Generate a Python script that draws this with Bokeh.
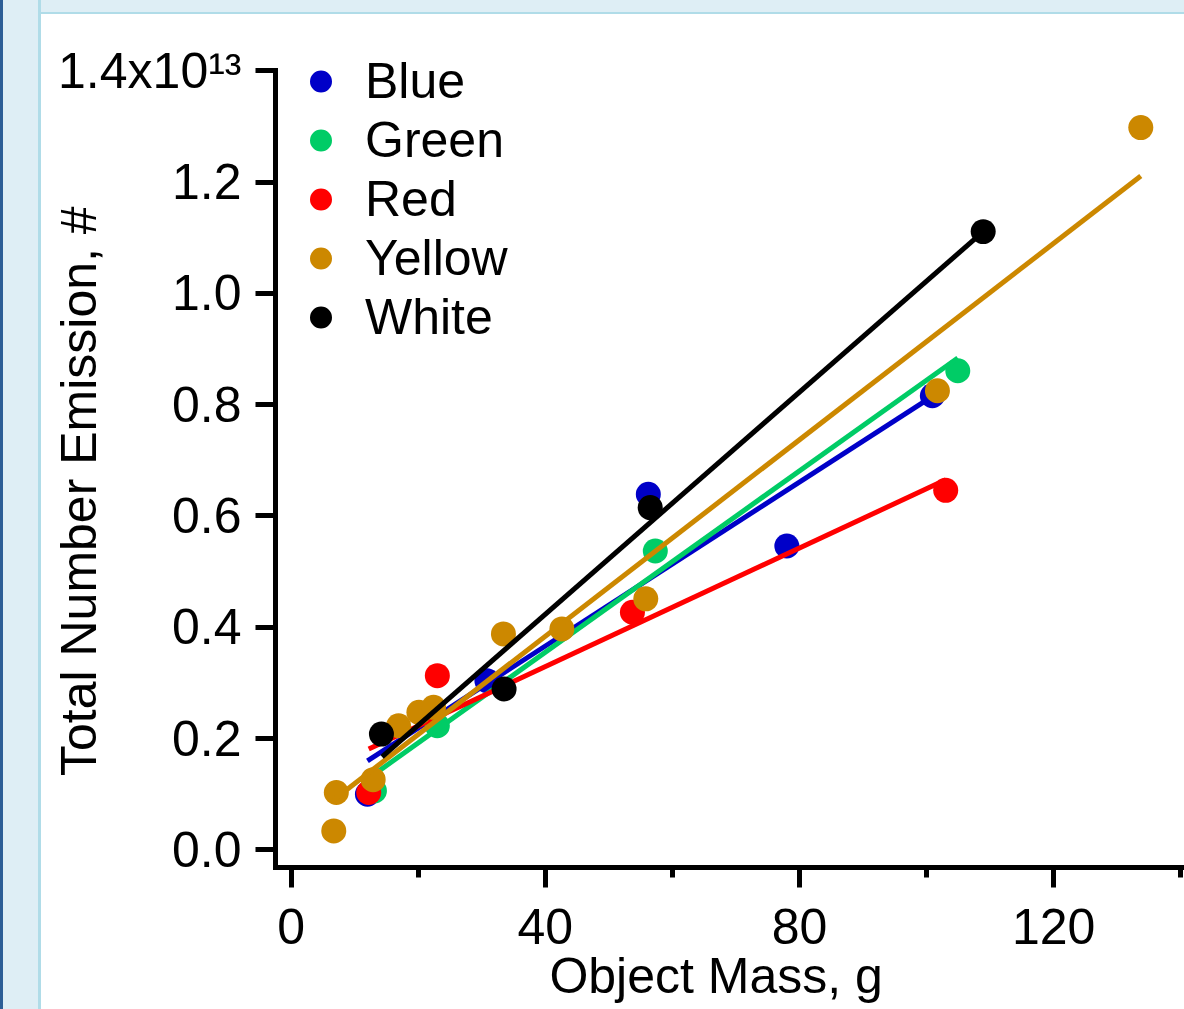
from bokeh.plotting import figure
from bokeh.models import Range1d, FixedTicker, Div
from bokeh.layouts import row, column
from bokeh.embed import file_html
from bokeh.resources import INLINE

FONT = "Liberation Sans"

# ---------------- data (emission in units of 1e13) ----------------
series_names = ["Blue", "Green", "Red", "Yellow", "White"]
series_colors = ["#0000c8", "#00cc66", "#ff0000", "#cc8800", "#000000"]

blue_mass = [12.0, 30.8, 56.2, 78.0, 100.9]
blue_emission = [0.100, 0.304, 0.639, 0.546, 0.816]

green_mass = [13.1, 23.0, 57.3, 104.9]
green_emission = [0.106, 0.223, 0.537, 0.861]

red_mass = [12.2, 23.0, 53.7, 103.0]
red_emission = [0.103, 0.313, 0.427, 0.646]

yellow_mass = [6.7, 7.1, 12.9, 16.9, 20.1, 22.4, 33.4, 42.6, 55.8, 101.7, 133.7]
yellow_emission = [0.034, 0.103, 0.126, 0.223, 0.247, 0.256, 0.388, 0.397, 0.451, 0.825, 1.298]

white_mass = [14.2, 33.5, 56.5, 108.9]
white_emission = [0.208, 0.289, 0.615, 1.111]

# linear-fit line end points
fit_mass_start = [12.0, 13.1, 12.2, 6.7, 14.3]
fit_emission_start = [0.160, 0.136, 0.181, 0.090, 0.167]
fit_mass_end = [100.9, 104.9, 103.0, 133.7, 108.9]
fit_emission_end = [0.815, 0.884, 0.665, 1.211, 1.111]

x_ticks = [0, 40, 80, 120]
x_minor_ticks = [20, 60, 100, 140]
y_ticks = [0.0, 0.2, 0.4, 0.6, 0.8, 1.0, 1.2, 1.4]
y_tick_labels = ["0.0", "0.2", "0.4", "0.6", "0.8", "1.0", "1.2", "1.4x10\u00b9\u00b3"]

x_title = "Object Mass, g"
y_title = "Total Number Emission, #"

series_mass = [blue_mass, green_mass, red_mass, yellow_mass, white_mass]
series_emission = [blue_emission, green_emission, red_emission, yellow_emission, white_emission]

# ---------------- page colours ----------------
LIGHT = "#deeef5"
BORDER = "#b0dce8"
DARK = "#2c5e96"

Y_START, Y_END = -0.0318, 1.4455
X_START, X_END = -2.47, 140.58

# ---------------- main chart ----------------
p = figure(width=1143, height=995,
           x_range=Range1d(X_START, X_END), y_range=Range1d(Y_START, Y_END),
           output_backend="svg", toolbar_location=None,
           min_border_left=234, min_border_right=0, min_border_top=31, min_border_bottom=142,
           background_fill_color="white", border_fill_color="white", outline_line_color=None)
p.grid.visible = False

for i, name in enumerate(series_names):
    p.scatter(series_mass[i], series_emission[i], size=25, color=series_colors[i],
              line_color=None, legend_label=name)
    p.line([fit_mass_start[i], fit_mass_end[i]], [fit_emission_start[i], fit_emission_end[i]],
           line_width=5, color=series_colors[i])

xa = p.xaxis[0]
ya = p.yaxis[0]
xa.ticker = FixedTicker(ticks=x_ticks, minor_ticks=x_minor_ticks)
ya.ticker = FixedTicker(ticks=y_ticks, minor_ticks=[])
ya.bounds = (Y_START, y_ticks[-1])
ya.major_label_overrides = {t: l for t, l in zip(y_ticks, y_tick_labels)}
xa.axis_label = x_title + "\u00a0" * 2
ya.axis_label = y_title + "\u00a0" * 5

for ax in (xa, ya):
    ax.axis_line_width = 5
    ax.axis_line_color = "black"
    ax.axis_line_cap = "square"
    ax.major_tick_line_width = 5
    ax.major_tick_line_color = "black"
    ax.major_tick_in = 0
    ax.major_tick_out = 20
    ax.minor_tick_line_width = 5
    ax.minor_tick_line_color = "black"
    ax.minor_tick_in = 0
    ax.minor_tick_out = 10
    ax.major_label_text_font = FONT
    ax.major_label_text_font_size = "50px"
    ax.major_label_text_color = "black"
    ax.axis_label_text_font = FONT
    ax.axis_label_text_font_size = "50px"
    ax.axis_label_text_font_style = "normal"
    ax.axis_label_text_color = "black"

xa.major_label_standoff = 21
xa.axis_label_standoff = 1
ya.major_label_standoff = 14
ya.major_label_orientation = "horizontal"
ya.axis_label_standoff = -52

lg = p.legend[0]
lg.location = (18, 521)
lg.orientation = "vertical"
lg.glyph_width = 55
lg.glyph_height = 58
lg.label_height = 58
lg.spacing = 1
lg.padding = 0
lg.margin = 0
lg.label_standoff = 17
lg.label_text_font = FONT
lg.label_text_font_size = "50px"
lg.label_text_color = "black"
lg.border_line_color = None
lg.background_fill_alpha = 0

# ---------------- surrounding frame ----------------
left_strip = Div(text="", width=41, height=1009, margin=0, styles={
    "background": f"linear-gradient(to right, {DARK} 0px, {DARK} 3px, {LIGHT} 3px, {LIGHT} 38px, {BORDER} 38px, {BORDER} 41px)"})
top_strip = Div(text="", width=1143, height=14, margin=0, styles={
    "background": f"linear-gradient(to bottom, {LIGHT} 0px, {LIGHT} 12px, {BORDER} 12px, {BORDER} 14px)"})

page = row(left_strip, column(top_strip, p))

open("out.html", "w").write(file_html(page, INLINE))
